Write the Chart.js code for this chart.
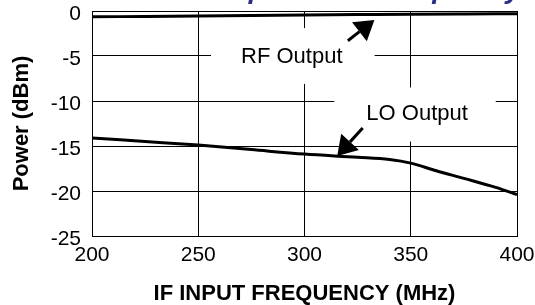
<!DOCTYPE html>
<html>
<head>
<meta charset="utf-8">
<script src="https://cdn.jsdelivr.net/npm/chart.js@4"></script>
<style>
  html, body { margin: 0; padding: 0; background: #fff; }
  #wrap { width: 535px; height: 305px; }
</style>
</head>
<body>
<div id="wrap"><canvas id="chart" width="535" height="305"></canvas></div>
<script>
// values
const rfFreq = [200, 225, 250, 275, 300, 325, 350, 375, 400];
const rfPower = [-0.65, -0.6, -0.55, -0.5, -0.45, -0.4, -0.35, -0.32, -0.3];
const loFreq = [200, 225, 250, 275, 300, 325, 340, 350, 362, 375, 390, 400];
const loPower = [-14.1, -14.5, -14.9, -15.4, -15.9, -16.25, -16.5, -16.9, -17.75, -18.6, -19.6, -20.4];
const xTicks = [200, 250, 300, 350, 400];
const yTicks = [0, -5, -10, -15, -20, -25];
const seriesNames = ['RF Output', 'LO Output'];

const FONT = 'Liberation Sans, Arial, Helvetica, sans-serif';

// callouts, in data units: text centre, white box behind it, arrow tail -> tip
const callouts = [
  { text: seriesNames[0], tx: 294, ty: -5.1, box: [256, 333, -1.9, -8.1], from: [320.4, -3.3], to: [332.9, -1.0] },
  { text: seriesNames[1], tx: 353, ty: -11.4, box: [314, 390, -8.5, -14.5], from: [327.4, -13.0], to: [315.4, -16.1] },
];

function pts(xs, ys) {
  return xs.map((x, i) => ({ x: x, y: ys[i] }));
}

function arrow(ctx, x0, y0, x1, y1) {
  const a = Math.atan2(y1 - y0, x1 - x0);
  const len = 19, half = 12;
  const bx = x1 - len * Math.cos(a), by = y1 - len * Math.sin(a);
  ctx.beginPath();
  ctx.moveTo(x0, y0);
  ctx.lineTo(bx, by);
  ctx.lineWidth = 3;
  ctx.stroke();
  ctx.beginPath();
  ctx.moveTo(x1, y1);
  ctx.lineTo(bx + half * Math.sin(a), by - half * Math.cos(a));
  ctx.lineTo(bx - half * Math.sin(a), by + half * Math.cos(a));
  ctx.closePath();
  ctx.fill();
}

const calloutPlugin = {
  id: 'callouts',
  beforeDatasetsDraw(chart) {
    // white boxes cut the grid behind the labels
    const { ctx, scales: { x, y } } = chart;
    ctx.save();
    ctx.fillStyle = '#fff';
    callouts.forEach(c => {
      const l = x.getPixelForValue(c.box[0]), r = x.getPixelForValue(c.box[1]);
      const t = y.getPixelForValue(c.box[2]), b = y.getPixelForValue(c.box[3]);
      ctx.fillRect(l, t, r - l, b - t);
    });
    ctx.restore();
  },
  afterDatasetsDraw(chart) {
    const { ctx, scales: { x, y } } = chart;
    ctx.save();
    ctx.fillStyle = '#000';
    ctx.strokeStyle = '#000';
    ctx.font = '22px ' + FONT;
    ctx.textAlign = 'center';
    ctx.textBaseline = 'middle';
    callouts.forEach(c => {
      ctx.fillText(c.text, x.getPixelForValue(c.tx), y.getPixelForValue(c.ty));
      arrow(ctx, x.getPixelForValue(c.from[0]), y.getPixelForValue(c.from[1]),
                 x.getPixelForValue(c.to[0]), y.getPixelForValue(c.to[1]));
    });
    ctx.restore();
  },
  afterDraw(chart) {
    // title is cut off by the top of the picture, only descenders show
    const ctx = chart.ctx;
    ctx.save();
    ctx.fillStyle = '#2b2e83';
    ctx.font = 'italic bold 28px ' + FONT;
    ctx.textAlign = 'right';
    ctx.textBaseline = 'alphabetic';
    ctx.fillText('Output vs. IF Frequency', 521, -2);
    ctx.restore();
  }
};

new Chart(document.getElementById('chart'), {
  type: 'line',
  data: {
    datasets: [
      { label: seriesNames[0], data: pts(rfFreq, rfPower) },
      { label: seriesNames[1], data: pts(loFreq, loPower) },
    ]
  },
  options: {
    responsive: false,
    animation: false,
    layout: { padding: 0 },
    elements: {
      line: { borderColor: '#000', borderWidth: 3, cubicInterpolationMode: 'monotone', fill: false },
      point: { radius: 0 }
    },
    plugins: { legend: { display: false }, tooltip: { enabled: false } },
    scales: {
      x: {
        type: 'linear',
        min: 200, max: 400,
        afterBuildTicks: s => { s.ticks = xTicks.map(v => ({ value: v })); },
        afterFit: s => { s.height = 69; s.paddingLeft = 0; s.paddingRight = 18; },
        grid: { color: '#000', lineWidth: 1, drawTicks: false },
        border: { color: '#000', width: 1 },
        ticks: { color: '#000', padding: 9, maxRotation: 0, font: { family: FONT, size: 21, lineHeight: 1 } },
        title: {
          display: true, text: 'IF INPUT FREQUENCY (MHz)', color: '#000',
          padding: { top: 0, bottom: 0 },
          font: { family: FONT, size: 22, weight: 'bold', lineHeight: 1.05 }
        }
      },
      y: {
        min: -25, max: 0,
        afterBuildTicks: s => { s.ticks = yTicks.map(v => ({ value: v })); },
        afterFit: s => { s.width = 92; s.paddingTop = 11; s.paddingBottom = 0; },
        grid: { color: '#000', lineWidth: 1, drawTicks: false },
        border: { color: '#000', width: 1 },
        ticks: { color: '#000', padding: 11, labelOffset: 3, font: { family: FONT, size: 21, lineHeight: 1 } },
        title: {
          display: true, text: 'Power (dBm)', color: '#000',
          padding: { top: 9, bottom: 0 },
          font: { family: FONT, size: 22, weight: 'bold', lineHeight: 1.2 }
        }
      }
    }
  },
  plugins: [calloutPlugin]
});
</script>
</body>
</html>
